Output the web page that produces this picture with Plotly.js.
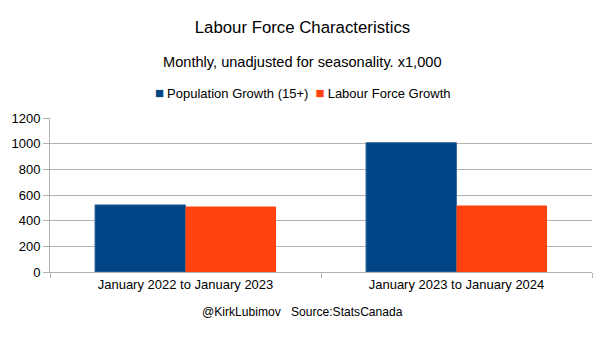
<!DOCTYPE html>
<html>
<head>
<meta charset="utf-8">
<script src="https://cdn.plot.ly/plotly-3.0.1.min.js"></script>
<style>html,body{margin:0;padding:0;background:#fff;}#chart{width:605px;height:340px;}</style>
</head>
<body>
<div id="chart"></div>
<script>
const categories = ["January 2022 to January 2023", "January 2023 to January 2024"];
const populationGrowth = [523, 1008];
const labourForceGrowth = [510, 518];
const seriesNames = ["Population Growth (15+)", "Labour Force Growth"];
const seriesColors = ["#004586", "#ff420e"];
const yTicks = [0, 200, 400, 600, 800, 1000, 1200];

const W = 605, H = 340, plotLeft = 50, plotRight = 592, plotTop = 117.5, plotBottom = 272.3;
const ph = plotBottom - plotTop, pw = plotRight - plotLeft;
const py = (pix) => (plotBottom - pix) / ph;
const cx = (W / 2 - plotLeft) / pw;

const data = [
  {type: 'bar', name: seriesNames[0], x: categories, y: populationGrowth,
   marker: {color: seriesColors[0], line: {color: '#3d6d9c', width: 1}}},
  {type: 'bar', name: seriesNames[1], x: categories, y: labourForceGrowth,
   marker: {color: seriesColors[1], line: {color: seriesColors[1], width: 0}}}
];

const legendText = seriesNames.map((n, i) =>
  '<span style="color:' + seriesColors[i] + ';font-size:15px">■\u2009</span>' + n).join('  ');

const layout = {
  width: W, height: H,
  margin: {l: plotLeft, r: W - plotRight, t: plotTop, b: H - plotBottom, pad: 0},
  paper_bgcolor: '#fff', plot_bgcolor: '#fff',
  font: {family: 'Liberation Sans, Arial, sans-serif', size: 13, color: '#000'},
  title: {text: 'Labour Force Characteristics', x: 0.5, xanchor: 'center',
          xref: 'container', y: 1 - 27/H, yref: 'container', yanchor: 'middle',
          font: {size: 16.8, color: '#000', family: 'Liberation Sans, Arial, sans-serif'}},
  barmode: 'group', bargap: 0.332, bargroupgap: 0,
  showlegend: false,
  xaxis: {type: 'category', tickson: 'boundaries', ticks: 'outside', ticklen: 5,
          tickcolor: '#b3b3b3', showline: true, linecolor: '#b3b3b3', linewidth: 1,
          showgrid: false, zeroline: false, tickfont: {size: 13}, fixedrange: true},
  yaxis: {range: [0, 1200], tickvals: yTicks, ticktext: yTicks.map(String),
          ticks: 'outside', ticklen: 6, tickcolor: '#b3b3b3',
          showline: true, linecolor: '#b3b3b3', linewidth: 1,
          showgrid: true, gridcolor: '#b3b3b3', gridwidth: 1, zeroline: false,
          tickfont: {size: 13}, fixedrange: true},
  annotations: [
    {text: 'Monthly, unadjusted for seasonality. x1,000', xref: 'paper', yref: 'paper',
     x: cx, y: py(61.5), xanchor: 'center', yanchor: 'middle', showarrow: false,
     font: {size: 14.6, color: '#000'}},
    {text: legendText, xref: 'paper', yref: 'paper',
     x: cx, y: py(92), xanchor: 'center', yanchor: 'middle', showarrow: false,
     font: {size: 13, color: '#000'}},
    {text: '@KirkLubimov   Source:StatsCanada', xref: 'paper', yref: 'paper',
     x: cx, y: py(313), xanchor: 'center', yanchor: 'middle', showarrow: false,
     font: {size: 12.1, color: '#000'}}
  ]
};

Plotly.newPlot('chart', data, layout, {displayModeBar: false, staticPlot: true});
</script>
</body>
</html>
